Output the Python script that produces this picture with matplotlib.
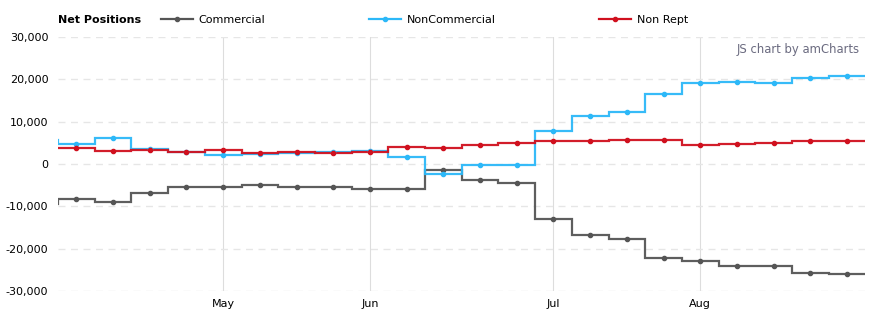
import numpy as np
import matplotlib
matplotlib.use('Agg')
import matplotlib.pyplot as plt
from matplotlib.lines import Line2D

# Weekly net positions, Apr 6 - Aug 31 (2021); first value is the week before the visible range
dates = ['2021-03-30', '2021-04-06', '2021-04-13', '2021-04-20', '2021-04-27',
         '2021-05-04', '2021-05-11', '2021-05-18', '2021-05-25',
         '2021-06-01', '2021-06-08', '2021-06-15', '2021-06-22', '2021-06-29',
         '2021-07-06', '2021-07-13', '2021-07-20', '2021-07-27',
         '2021-08-03', '2021-08-10', '2021-08-17', '2021-08-24', '2021-08-31']
commercial = [-9500, -8200, -8900, -6800, -5400, -5400, -4900, -5400, -5400, -5800, -5800,
              -1300, -3700, -4400, -12900, -16700, -17600, -22100, -23000, -24000, -24000,
              -25700, -26100]
noncommercial = [5700, 4650, 6070, 3620, 2900, 2200, 2430, 2670, 2900, 3140, 1720,
                 -2290, -350, -350, 7720, 11400, 12360, 16600, 19060, 19450, 19210,
                 20390, 20860]
nonrept = [3860, 3860, 3140, 3380, 2900, 3380, 2670, 2900, 2670, 2900, 4100,
           3860, 4410, 5040, 5510, 5510, 5750, 5750, 4570, 4800, 5040, 5510, 5510]
month_labels = ['May', 'Jun', 'Jul', 'Aug']
series_names = ['Commercial', 'NonCommercial', 'Non Rept']
colors = ['#555555', '#2cb8f8', '#d0101e']

plt.rcParams['font.family'] = ['DejaVu Sans']
plt.rcParams['font.size'] = 8

# amCharts equal spacing: one slot per week
d = np.array(dates, dtype='datetime64[D]')
x = np.arange(len(d)) - 1
edges = np.arange(len(d) + 1) - 1.5

# first week of each month (within the visible range) gets the label
months = d.astype('datetime64[M]')
first_of_month = [i for i in range(2, len(d)) if months[i] != months[i - 1]]

fig = plt.figure(figsize=(8.72, 3.25), dpi=100)
ax = fig.add_axes([58 / 872, 34 / 325, 807.4 / 872, 254 / 325])

for vals, col in zip([commercial, noncommercial, nonrept], colors):
    ax.stairs(vals, edges, baseline=None, color=col, linewidth=1.6, alpha=0.95)
    ax.plot(x[1:], vals[1:], 'o', color=col, markersize=3.0, linestyle='none')

ax.set_xlim(-0.5, len(d) - 1.5)
ax.set_ylim(-30000, 30000)
ax.set_yticks(np.arange(-30000, 30001, 10000))
ax.yaxis.set_major_formatter(matplotlib.ticker.FuncFormatter(lambda v, p: f'{int(v):,}'))
ax.set_xticks(x[first_of_month])
ax.set_xticklabels(month_labels)

ax.grid(axis='y', color='#e6e6e6', linestyle=(0, (5, 4)), linewidth=1)
ax.grid(axis='x', color='#dddddd', linestyle='-', linewidth=0.8)
ax.set_axisbelow(True)
for s in ax.spines.values():
    s.set_visible(False)
ax.tick_params(axis='both', length=0, labelsize=8, colors='black')
ax.tick_params(axis='y', pad=7)
ax.tick_params(axis='x', pad=6)

# legend row on top
fig.text(58 / 872, 1 - 20 / 325, 'Net Positions', fontsize=8, fontweight='bold', va='center')
handles = [Line2D([], [], color=c, linewidth=1.6, marker='o', markersize=3.0) for c in colors]
fig.legend(handles, series_names, loc='center left', bbox_to_anchor=(161 / 872, 1 - 20 / 325),
           ncol=3, frameon=False, fontsize=8, handlelength=2.9, handletextpad=0.5,
           columnspacing=9.3, borderpad=0, borderaxespad=0)

ax.text(0.993, 0.949, 'JS chart by amCharts', transform=ax.transAxes, ha='right', va='center',
        fontsize=8.4, color='#6b6b80')

fig.savefig('out.png', dpi=100)
